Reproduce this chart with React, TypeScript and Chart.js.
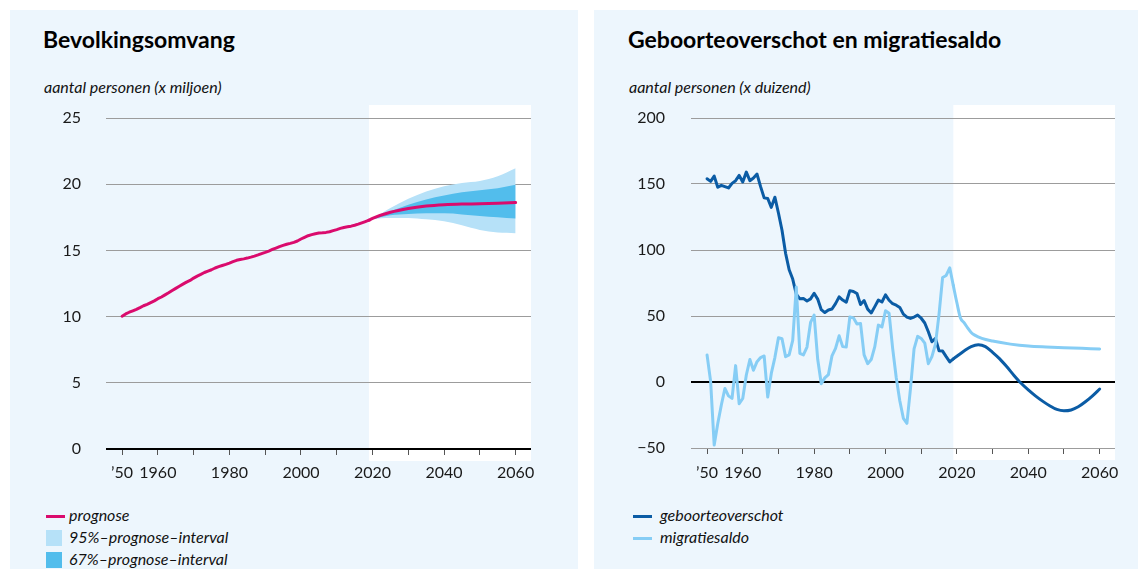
import React, { useEffect, useRef } from "react";
import { Chart, registerables } from "chart.js";

Chart.register(...registerables);

// ---------- data ----------
const histYears = [
  1950, 1951, 1952, 1953, 1954, 1955, 1956, 1957, 1958, 1959,
  1960, 1961, 1962, 1963, 1964, 1965, 1966, 1967, 1968, 1969,
  1970, 1971, 1972, 1973, 1974, 1975, 1976, 1977, 1978, 1979,
  1980, 1981, 1982, 1983, 1984, 1985, 1986, 1987, 1988, 1989,
  1990, 1991, 1992, 1993, 1994, 1995, 1996, 1997, 1998, 1999,
  2000, 2001, 2002, 2003, 2004, 2005, 2006, 2007, 2008, 2009,
  2010, 2011, 2012, 2013, 2014, 2015, 2016, 2017, 2018, 2019,
];

// Bevolkingsomvang (x miljoen)
const populationHist = [
  10.03, 10.2, 10.33, 10.44, 10.55, 10.68, 10.82, 10.93, 11.06, 11.19,
  11.35, 11.48, 11.64, 11.8, 11.97, 12.13, 12.29, 12.45, 12.6, 12.73,
  12.91, 13.06, 13.19, 13.33, 13.44, 13.54, 13.67, 13.77, 13.86, 13.94,
  14.04, 14.15, 14.25, 14.31, 14.36, 14.42, 14.49, 14.57, 14.66, 14.76,
  14.85, 14.95, 15.07, 15.18, 15.29, 15.38, 15.46, 15.53, 15.61, 15.71,
  15.86, 15.99, 16.11, 16.19, 16.26, 16.31, 16.33, 16.36, 16.41, 16.49,
  16.57, 16.66, 16.73, 16.78, 16.83, 16.9, 16.98, 17.08, 17.18, 17.28,
];
const popForecastYears = [2019, 2020, 2025, 2030, 2035, 2040, 2045, 2050, 2055, 2060];
const popForecast = [17.28, 17.42, 17.88, 18.17, 18.35, 18.45, 18.5, 18.52, 18.56, 18.62];
const pi95Upper = [17.28, 17.4, 18.2, 18.9, 19.45, 19.85, 20.1, 20.25, 20.6, 21.2];
const pi95Lower = [17.28, 17.35, 17.45, 17.45, 17.35, 17.2, 16.9, 16.55, 16.35, 16.3];
const pi67Upper = [17.28, 17.38, 17.95, 18.45, 18.85, 19.15, 19.4, 19.55, 19.7, 19.95];
const pi67Lower = [17.28, 17.36, 17.65, 17.75, 17.8, 17.8, 17.72, 17.6, 17.5, 17.4];

// Geboorteoverschot en migratiesaldo (x duizend)
const naturalHist = [
  154, 152, 156, 147.5, 149, 148, 147, 150.5, 152.5, 156.5,
  151.5, 159, 152.5, 154.5, 157.5, 148, 139.5, 139, 132.3, 140,
  128, 115, 97.5, 85, 78, 66.5, 63, 63.2, 61.4, 63,
  67.2, 62.8, 54.8, 52.6, 54.6, 55.3, 59.4, 64.5, 62.1, 60.4,
  69.2, 68.6, 67, 58.7, 61.7, 55.2, 52.3, 57.1, 62.1, 60.6,
  66, 61.9, 59.3, 58.2, 56.5, 51.4, 49.2, 48.2, 49.2, 50.7,
  48.3, 44.7, 38.1, 30.5, 33, 23.6, 23.4, 19.2, 15.2, 17.5,
];
const migrationHist = [
  20.5, 0.5, -47.8, -31.4, -17.4, -4.9, -10.5, -12.4, 12.4, -16.5,
  -12.5, 5.3, 17, 8.9, 15.4, 18.5, 19.7, -11.4, 6.5, 18.5,
  33.6, 32.8, 19.2, 20.5, 31.6, 72, 21.7, 20.5, 26.5, 45.1,
  50.7, 17.2, -1.3, 3.1, 5.6, 19.8, 25.5, 35, 26.8, 26.5,
  49.2, 48.6, 44, 44.4, 20.5, 13.9, 17, 26.8, 43.1, 41.7,
  54, 52.1, 25.5, 3.4, -14.2, -27.5, -31.3, -4.8, 25.1, 34.6,
  33, 29.5, 13.9, 19.2, 28.7, 51.4, 79.2, 80.7, 86.5, 73,
];
const naturalForecastYears = [
  2019, 2020, 2022, 2024, 2026, 2028, 2030, 2032, 2034, 2036, 2038,
  2040, 2042, 2044, 2046, 2048, 2050, 2052, 2054, 2056, 2058, 2060,
];
const naturalForecast = [
  17.5, 19.5, 23.5, 26.8, 28.2, 26.8, 22.5, 17.5, 11.5, 5, -1,
  -6, -10.5, -14.5, -18, -20.8, -21.8, -21.2, -18.8, -15, -10.5, -5.3,
];
const migrationForecastYears = [
  2019, 2020, 2021, 2022, 2023, 2024, 2025, 2027, 2030, 2035, 2040, 2045, 2050, 2055, 2060,
];
const migrationForecast = [
  73, 60, 48.5, 45, 41, 37.5, 35.5, 33, 31, 28.7, 27.2, 26.5, 26, 25.5, 25,
];

const forecastStart = 2019;
const xTickYears = [1950, 1960, 1970, 1980, 1990, 2000, 2010, 2020, 2030, 2040, 2050, 2060];
const xTickLabels = ["\u201950", "1960", "", "1980", "", "2000", "", "2020", "", "2040", "", "2060"];
const xMin = 1945.5;
const xMax = 2064.3;

// ---------- styles ----------
const PANEL = "#edf6fd";
const PINK = "#da0b6d";
const BAND95 = "#b6e1f8";
const BAND67 = "#52bdec";
const DARKBLUE = "#0b5ca5";
const LIGHTBLUE = "#86cdf5";
const GRID = "#9c9c9c";
const FONT = "Lato, 'Open Sans', sans-serif";

Chart.defaults.font.family = FONT;

const pts = (xs: number[], ys: number[]) => xs.map((x, i) => ({ x, y: ys[i] }));

const forecastBandPlugin = {
  id: "forecastBand",
  beforeDraw(chart: any, _args: any, opts: any) {
    const { ctx, chartArea, scales } = chart;
    const x0 = scales.x.getPixelForValue(opts.start);
    ctx.save();
    ctx.fillStyle = "#ffffff";
    ctx.fillRect(x0, chartArea.top - 13, chartArea.right - x0, chartArea.bottom - chartArea.top + 25);
    ctx.restore();
  },
};

function xScale(labelPadding: number, axisHeight: number) {
  return {
    type: "linear",
    min: xMin,
    max: xMax,
    afterBuildTicks: (s: any) => {
      s.ticks = xTickYears.map((v) => ({ value: v }));
    },
    afterFit: (s: any) => {
      s.height = axisHeight;
      s.paddingLeft = 0;
      s.paddingRight = 0;
    },
    ticks: {
      autoSkip: false,
      maxRotation: 0,
      padding: labelPadding,
      color: "#1a1a1a",
      font: { size: 16, family: FONT },
      callback: (_v: any, i: number) => xTickLabels[i],
    },
    grid: {
      display: true,
      drawOnChartArea: false,
      drawTicks: true,
      tickLength: 6,
      color: "#555",
      lineWidth: 1,
    },
    border: { display: false },
  };
}

function yScale(min: number, max: number, step: number, width: number, pad: number) {
  return {
    min,
    max,
    afterFit: (s: any) => {
      s.width = width;
      s.paddingTop = 0;
      s.paddingBottom = 0;
    },
    ticks: {
      stepSize: step,
      padding: pad,
      color: "#1a1a1a",
      font: { size: 16, family: FONT },
      callback: (v: any) => (v < 0 ? "\u2212" + Math.abs(v) : String(v)),
    },
    grid: {
      drawTicks: false,
      color: (c: any) => (c.tick && c.tick.value === 0 ? "#000" : GRID),
      lineWidth: (c: any) => (c.tick && c.tick.value === 0 ? 2 : 1),
    },
    border: { display: false },
  };
}

const lineBase = {
  pointRadius: 0,
  borderWidth: 3,
  borderJoinStyle: "round",
  borderCapStyle: "round",
  fill: false,
};

const bandBase = {
  borderWidth: 0,
  borderColor: "rgba(0,0,0,0)",
  pointRadius: 0,
  cubicInterpolationMode: "monotone",
};

function leftConfig(): any {
  return {
    type: "line",
    data: {
      datasets: [
        { ...lineBase, data: pts(histYears, populationHist), borderColor: PINK, tension: 0 },
        { ...lineBase, data: pts(popForecastYears, popForecast), borderColor: PINK, cubicInterpolationMode: "monotone" },
        { ...bandBase, data: pts(popForecastYears, pi67Upper), backgroundColor: BAND67, fill: "+1" },
        { ...bandBase, data: pts(popForecastYears, pi67Lower), fill: false },
        { ...bandBase, data: pts(popForecastYears, pi95Upper), backgroundColor: BAND95, fill: "+1" },
        { ...bandBase, data: pts(popForecastYears, pi95Lower), fill: false },
      ],
    },
    options: {
      responsive: false,
      animation: false,
      events: [],
      layout: { padding: { top: 18, right: 19, left: 0, bottom: 0 } },
      plugins: { legend: { display: false }, tooltip: { enabled: false }, forecastBand: { start: forecastStart } },
      scales: { x: xScale(8, 41), y: yScale(0, 25, 5, 76, 25) },
    },
    plugins: [forecastBandPlugin],
  };
}

function rightConfig(): any {
  return {
    type: "line",
    data: {
      datasets: [
        { ...lineBase, data: pts(histYears, migrationHist), borderColor: LIGHTBLUE, tension: 0 },
        { ...lineBase, data: pts(migrationForecastYears, migrationForecast), borderColor: LIGHTBLUE, cubicInterpolationMode: "monotone" },
        { ...lineBase, data: pts(histYears, naturalHist), borderColor: DARKBLUE, tension: 0 },
        { ...lineBase, data: pts(naturalForecastYears, naturalForecast), borderColor: DARKBLUE, cubicInterpolationMode: "monotone" },
      ],
    },
    options: {
      responsive: false,
      animation: false,
      events: [],
      layout: { padding: { top: 18, right: 15, left: 0, bottom: 0 } },
      plugins: { legend: { display: false }, tooltip: { enabled: false }, forecastBand: { start: forecastStart } },
      scales: { x: xScale(9, 42), y: yScale(-50, 200, 50, 91, 26) },
    },
    plugins: [forecastBandPlugin],
  };
}

function ChartCanvas({ config, left, top, width, height }: any) {
  const ref = useRef<HTMLCanvasElement | null>(null);
  useEffect(() => {
    if (!ref.current) return;
    const chart = new Chart(ref.current, config());
    return () => chart.destroy();
  }, []);
  return (
    <canvas
      ref={ref}
      width={width}
      height={height}
      style={{ position: "absolute", left, top, width, height }}
    />
  );
}

const textBase: React.CSSProperties = {
  position: "absolute",
  fontFamily: FONT,
  whiteSpace: "nowrap",
  color: "#000",
};

function Title({ x, text }: { x: number; text: string }) {
  return <div style={{ ...textBase, left: x, top: 28, fontSize: 23, fontWeight: 700, lineHeight: "23px" }}>{text}</div>;
}
function Sub({ x, text }: { x: number; text: string }) {
  return <div style={{ ...textBase, left: x, top: 79, fontSize: 16, fontStyle: "italic", lineHeight: "16px", color: "#111" }}>{text}</div>;
}
function LegendText({ x, cy, text }: { x: number; cy: number; text: string }) {
  return <div style={{ ...textBase, left: x, top: cy - 10, fontSize: 16, fontStyle: "italic", lineHeight: "18px", color: "#111" }}>{text}</div>;
}
function LineSwatch({ x, cy, color }: { x: number; cy: number; color: string }) {
  return <div style={{ position: "absolute", left: x, top: cy - 1.5, width: 19, height: 3, background: color }} />;
}
function BoxSwatch({ x, cy, color }: { x: number; cy: number; color: string }) {
  return <div style={{ position: "absolute", left: x, top: cy - 8, width: 16, height: 16, background: color }} />;
}

export default function App() {
  return (
    <div style={{ position: "absolute", left: 0, top: 0, width: 1148, height: 569, background: "#fff", overflow: "hidden" }}>
      <div style={{ position: "absolute", left: 10, top: 10, width: 568, height: 570, background: PANEL }} />
      <div style={{ position: "absolute", left: 594, top: 10, width: 544, height: 570, background: PANEL }} />

      <Title x={43} text="Bevolkingsomvang" />
      <Sub x={44} text="aantal personen (x miljoen)" />
      <ChartCanvas config={leftConfig} left={30} top={100} width={520} height={390} />
      <LineSwatch x={46} cy={516} color={PINK} />
      <LegendText x={69} cy={516} text="prognose" />
      <BoxSwatch x={46} cy={538} color={BAND95} />
      <LegendText x={69} cy={538} text={"95%\u2013prognose\u2013interval"} />
      <BoxSwatch x={46} cy={560} color={BAND67} />
      <LegendText x={69} cy={560} text={"67%\u2013prognose\u2013interval"} />

      <Title x={628} text="Geboorteoverschot en migratiesaldo" />
      <Sub x={629} text="aantal personen (x duizend)" />
      <ChartCanvas config={rightConfig} left={600} top={100} width={530} height={390} />
      <LineSwatch x={633} cy={516} color={DARKBLUE} />
      <LegendText x={660} cy={516} text="geboorteoverschot" />
      <LineSwatch x={633} cy={538} color={LIGHTBLUE} />
      <LegendText x={660} cy={538} text="migratiesaldo" />
    </div>
  );
}
